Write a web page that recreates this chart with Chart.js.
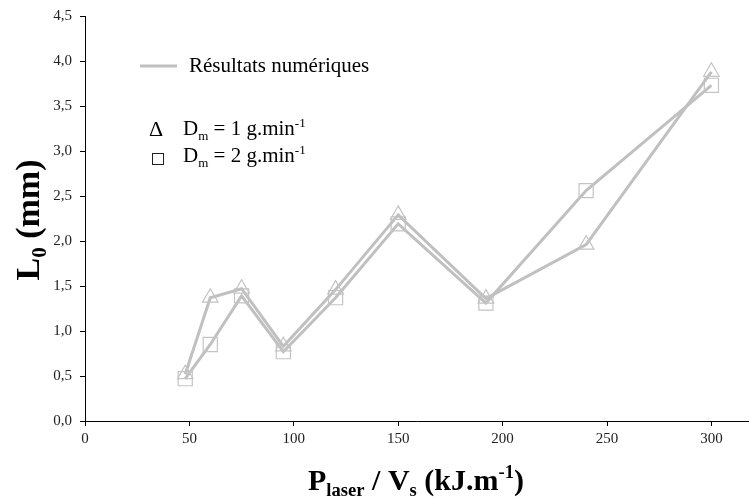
<!DOCTYPE html>
<html>
<head>
<meta charset="utf-8">
<script src="https://cdn.jsdelivr.net/npm/chart.js@4.4.1/dist/chart.umd.min.js"></script>
<style>
  html, body { margin: 0; padding: 0; background: #fff; }
</style>
</head>
<body>
<canvas id="chart" width="749" height="500"></canvas>
<script>
// Energy per unit length (kJ/m) and measured L0 (mm)
const energy = [48, 60, 75, 95, 120, 150, 192, 240, 300];
const lengthDm1 = [0.52, 1.37, 1.47, 0.83, 1.46, 2.29, 1.36, 1.96, 3.88];
const lengthDm2 = [0.47, 0.85, 1.39, 0.77, 1.37, 2.19, 1.31, 2.56, 3.73];
const xTicks = [0, 50, 100, 150, 200, 250, 300];
const yTicks = [0, 0.5, 1, 1.5, 2, 2.5, 3, 3.5, 4, 4.5];

const SERIF = "'Liberation Serif', 'Times New Roman', serif";
const LINE_GREY = "#c0c0c0";
const MARK_GREY = "#c4c4c4";

function toPoints(xs, ys) {
  return xs.map((x, i) => ({ x: x, y: ys[i] }));
}

// draw text made of pieces with sub/superscripts, returns width
function richText(ctx, parts, x, y, size, bold, measureOnly) {
  let cx = x;
  parts.forEach(p => {
    const s = size * (p.scale || 1);
    ctx.font = (bold ? "bold " : "") + s + "px " + SERIF;
    if (!measureOnly) ctx.fillText(p.t, cx, y + (p.dy || 0) * size);
    cx += ctx.measureText(p.t).width;
  });
  return cx - x;
}

const overlay = {
  id: "overlay",
  afterDraw(chart) {
    const ctx = chart.ctx;
    ctx.save();
    ctx.fillStyle = "#000";
    ctx.textBaseline = "alphabetic";
    ctx.textAlign = "left";

    // x axis title
    const xt = [
      { t: "P" }, { t: "laser", scale: 0.62, dy: 0.2 },
      { t: " / V" }, { t: "s", scale: 0.62, dy: 0.2 },
      { t: " (kJ.m" }, { t: "-1", scale: 0.62, dy: -0.4 }, { t: ")" }
    ];
    let w = richText(ctx, xt, 0, 0, 30, true, true);
    richText(ctx, xt, 416 - w / 2, 490, 30, true, false);

    // y axis title
    const yt = [{ t: "L" }, { t: "0", scale: 0.62, dy: 0.2 }, { t: " (mm)" }];
    ctx.save();
    ctx.translate(39, 220);
    ctx.rotate(-Math.PI / 2);
    w = richText(ctx, yt, 0, 0, 34, true, true);
    richText(ctx, yt, -w / 2, 0, 34, true, false);
    ctx.restore();

    // legend
    ctx.strokeStyle = LINE_GREY;
    ctx.lineWidth = 3;
    ctx.beginPath();
    ctx.moveTo(140, 66);
    ctx.lineTo(177, 66);
    ctx.stroke();
    ctx.font = "21px " + SERIF;
    ctx.fillText("Résultats numériques", 189, 72);

    ctx.font = "22px " + SERIF;
    ctx.fillText("\u0394", 149, 136);
    const l1 = [
      { t: "D" }, { t: "m", scale: 0.62, dy: 0.22 },
      { t: " = 1 g.min" }, { t: "-1", scale: 0.62, dy: -0.38 }
    ];
    richText(ctx, l1, 183, 135, 21, false, false);

    ctx.strokeStyle = "#222";
    ctx.lineWidth = 1;
    ctx.strokeRect(152.5, 153.5, 11, 11);
    const l2 = [
      { t: "D" }, { t: "m", scale: 0.62, dy: 0.22 },
      { t: " = 2 g.min" }, { t: "-1", scale: 0.62, dy: -0.38 }
    ];
    richText(ctx, l2, 183, 162, 21, false, false);
    ctx.restore();
  }
};

const ctx = document.getElementById("chart").getContext("2d");
new Chart(ctx, {
  type: "scatter",
  data: {
    datasets: [
      {
        label: "Dm = 1 g.min-1",
        data: toPoints(energy, lengthDm1),
        showLine: true,
        borderColor: LINE_GREY,
        borderWidth: 3,
        pointStyle: "triangle",
        pointRadius: 9,
        pointBorderColor: MARK_GREY,
        pointBackgroundColor: "rgba(255,255,255,0)",
        pointBorderWidth: 1.2
      },
      {
        label: "Dm = 2 g.min-1",
        data: toPoints(energy, lengthDm2),
        showLine: true,
        borderColor: LINE_GREY,
        borderWidth: 3,
        pointStyle: "rect",
        pointRadius: 10,
        pointBorderColor: MARK_GREY,
        pointBackgroundColor: "rgba(255,255,255,0)",
        pointBorderWidth: 1.2
      }
    ]
  },
  options: {
    responsive: false,
    animation: false,
    layout: { autoPadding: false, padding: { top: 16, right: 0, bottom: 0, left: 0 } },
    plugins: { legend: { display: false }, tooltip: { enabled: false } },
    scales: {
      x: {
        type: "linear",
        min: 0,
        max: 318,
        afterBuildTicks: s => { s.ticks = xTicks.map(v => ({ value: v })); },
        afterFit: s => { s.height = 79; s.paddingLeft = 0; s.paddingRight = 0; },
        grid: { drawOnChartArea: false, tickLength: 5, color: "#000" },
        border: { color: "#000", width: 1 },
        ticks: {
          color: "#222",
          padding: 4,
          maxRotation: 0,
          font: { family: SERIF, size: 15 }
        }
      },
      y: {
        min: 0,
        max: 4.5,
        afterBuildTicks: s => { s.ticks = yTicks.map(v => ({ value: v })); },
        afterFit: s => { s.width = 85; s.paddingTop = 0; s.paddingBottom = 0; },
        grid: { drawOnChartArea: false, tickLength: 5, color: "#000" },
        border: { color: "#000", width: 1 },
        ticks: {
          color: "#222",
          padding: 8,
          font: { family: SERIF, size: 15 },
          callback: v => v.toFixed(1).replace(".", ",")
        }
      }
    }
  },
  plugins: [overlay]
});
</script>
</body>
</html>
